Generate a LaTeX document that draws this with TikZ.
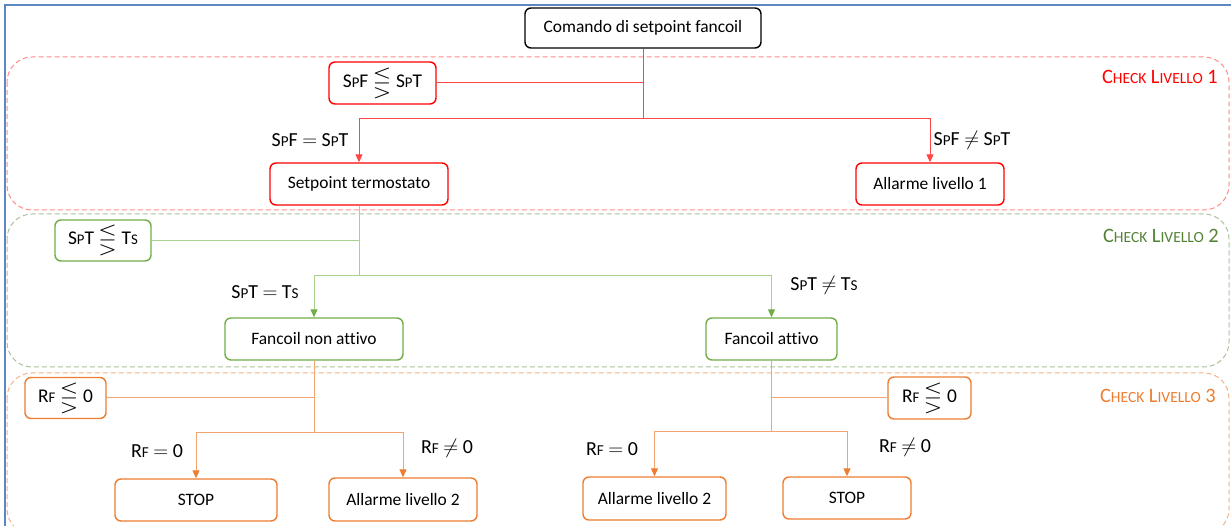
\documentclass[tikz,border=0pt]{standalone}
\usepackage{fontspec}
\usepackage{amssymb}
\setmainfont{Carlito}[Ligatures=CommonOff]
\usetikzlibrary{arrows.meta}
\makeatletter
\newcommand\smc[1]{{\fontsize{\fpeval{0.76*\f@size}}{0}\selectfont #1}}
\newcommand\lgt{\raisebox{-2bp}{\scalebox{1.25}{$\lesseqgtr$}}}
\makeatother
\definecolor{cred}{HTML}{FF0000}
\definecolor{credl}{HTML}{FF4545}
\definecolor{credd}{HTML}{FF8A8A}
\definecolor{cgrn}{HTML}{70AD47}
\definecolor{cgrnl}{HTML}{A9D18E}
\definecolor{cgrnd}{HTML}{A9C29A}
\definecolor{cgrnt}{HTML}{548235}
\definecolor{corg}{HTML}{ED7D31}
\definecolor{corgl}{HTML}{F4B183}
\definecolor{corgm}{HTML}{F3A56F}
\definecolor{cblue}{HTML}{5B87C5}
\tikzset{
  box/.style={draw, rounded corners=6bp, line width=1.4bp, inner sep=0pt, align=center,
    font=\fontsize{17.5}{20}\selectfont, fill=white},
  cbox/.style={box, font=\fontsize{19.5}{22}\selectfont},
  lbl/.style={inner sep=0pt, font=\fontsize{20}{22}\selectfont},
  chk/.style={inner sep=0pt, anchor=east, font=\fontsize{20.5}{22}\selectfont},
  zone/.style={dashed, dash pattern=on 5bp off 3bp, line width=1bp, rounded corners=25bp},
  conn/.style={line width=1bp},
  arr/.style={conn, -{Triangle[length=8bp,width=7bp]}},
  arrg/.style={conn, -{Triangle[length=8bp,width=7bp,color=cgrn,fill=cgrn]}},
  arro/.style={conn, -{Triangle[length=8bp,width=7bp,color=corg,fill=corg]}},
}
\begin{document}
\begin{tikzpicture}[x=1bp,y=-1bp]
\useasboundingbox (0,0) rectangle (1231,526);
% outer frame
\draw[cblue, line width=2.2bp] (1235,5) -- (5,5) -- (5,530);
% zones
\draw[zone, credd] (7,57) rectangle (1229,210);
\draw[zone, cgrnd] (7,214) rectangle (1229,367);
\draw[zone, corgl] (7,373) rectangle (1229,534);
\node[chk, text=cred] (c1) at (1218,77) {C\smc{HECK} L\smc{IVELLO} 1};
\node[chk, text=cgrnt] (c2) at (1219,236) {C\smc{HECK} L\smc{IVELLO} 2};
\node[chk, text=corg] (c3) at (1216,396) {C\smc{HECK} L\smc{IVELLO} 3};
% level 1
\node[box, draw=black, minimum width=236bp, minimum height=40bp] (top) at (643,28) {Comando di setpoint fancoil};
\node[cbox, draw=cred, minimum width=107bp, minimum height=42bp] (spf) at (382.5,83) {S\smc{P}F \lgt{} S\smc{P}T};
\node[box, draw=cred, minimum width=178bp, minimum height=42bp] (st) at (359,184) {Setpoint termostato};
\node[box, draw=cred, minimum width=148bp, minimum height=42bp] (al1) at (930,184) {Allarme livello 1};
\coordinate (j1) at (top.south |- 0,119);
\draw[conn, credl] (top.south) -- (j1);
\draw[arr, credl] (j1) -| (st.north);
\draw[arr, credl] (j1) -| (al1.north);
\draw[conn, credl] (spf.east) -- (spf.east -| j1);
\node[lbl] (l1a) at (310,140) {S\smc{P}F $=$ S\smc{P}T};
\node[lbl] (l1b) at (972,140) {S\smc{P}F $\neq$ S\smc{P}T};
% level 2
\node[cbox, draw=cgrn, minimum width=96bp, minimum height=41bp] (spt) at (103,240.5) {S\smc{P}T \lgt{} T\smc{S}};
\node[box, draw=cgrn, minimum width=178bp, minimum height=42bp] (fna) at (314,339) {Fancoil non attivo};
\node[box, draw=cgrn, minimum width=131bp, minimum height=42bp] (fa) at (771.5,339) {Fancoil attivo};
\coordinate (j2) at (st.south |- 0,276);
\draw[conn, cgrnl] (st.south) -- (j2);
\draw[arrg, cgrnl] (j2) -| (fna.north);
\draw[arrg, cgrnl] (j2) -| (fa.north);
\draw[conn, cgrnl] (spt.east) -- (spt.east -| j2);
\node[lbl] (l2a) at (265,292) {S\smc{P}T $=$ T\smc{S}};
\node[lbl] (l2b) at (824,285) {S\smc{P}T $\neq$ T\smc{S}};
% level 3 left
\node[cbox, draw=corg, minimum width=81bp, minimum height=41bp] (rf1) at (65.5,398) {R\smc{F} \lgt{} 0};
\node[box, draw=corg, minimum width=162bp, minimum height=42bp] (stop1) at (196,500) {STOP};
\node[box, draw=corg, minimum width=148bp, minimum height=43bp] (al2a) at (403,499.5) {Allarme livello 2};
\coordinate (j3) at (fna.south |- 0,432);
\draw[conn, corgm] (fna.south) -- (j3);
\draw[arro, corgm] (j3) -| (stop1.north);
\draw[arro, corgm] (j3) -| (al2a.north);
\draw[conn, corgm] (rf1.east) -- (rf1.east -| j3);
\node[lbl] (l3a) at (157,451) {R\smc{F} $=$ 0};
\node[lbl] (l3b) at (447,448) {R\smc{F} $\neq$ 0};
% level 3 right
\node[cbox, draw=corg, minimum width=83bp, minimum height=42bp] (rf2) at (929.5,398) {R\smc{F} \lgt{} 0};
\node[box, draw=corg, minimum width=143bp, minimum height=43bp] (al2b) at (654.5,498.5) {Allarme livello 2};
\node[box, draw=corg, minimum width=128bp, minimum height=42bp] (stop2) at (847,498) {STOP};
\coordinate (j4) at (fa.south |- 0,431);
\draw[conn, corgm] (fa.south) -- (j4);
\draw[arro, corgm] (j4) -| (al2b.north);
\draw[arro, corgm] (j4) -| (stop2.north);
\draw[conn, corgm] (rf2.west) -- (rf2.west -| j4);
\node[lbl] (l3c) at (612,449) {R\smc{F} $=$ 0};
\node[lbl] (l3d) at (905,447) {R\smc{F} $\neq$ 0};
\end{tikzpicture}
\end{document}
